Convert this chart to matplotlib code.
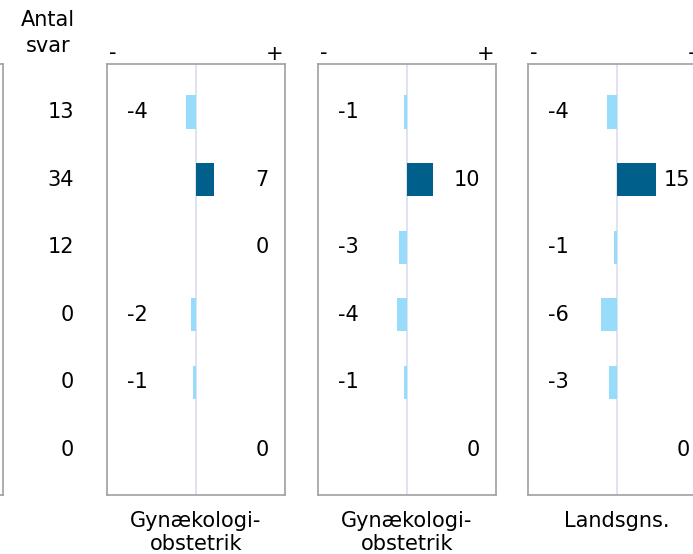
import numpy as np
import matplotlib.pyplot as plt

# data
antal_svar = [13, 34, 12, 0, 0, 0]
panel_names = ['Gynækologi-\nobstetrik', 'Gynækologi-\nobstetrik', 'Landsgns.']
panel_vals = [
	[-4, 7, 0, -2, -1, 0],
	[-1, 10, -3, -4, -1, 0],
	[-4, 15, -1, -6, -3, 0],
]

W, H = 693, 554
light = '#97DDFB'
dark = '#005F8B'
edge = '#A0A0A0'
zero_col = '#DCDCF2'
fs = 15

fig = plt.figure(figsize=(W/100, H/100), dpi=100)

def px_axes(left, top, width, height):
	return fig.add_axes([left/W, 1-(top+height)/H, width/W, height/H])

rows = np.arange(len(antal_svar))

# partial panel cut off on the left
ax0 = px_axes(-175, 64, 178, 431)
ax0.set_xticks([])
ax0.set_yticks([])
for s in ax0.spines.values():
	s.set_color(edge)
	s.set_linewidth(1.2)

# antal svar column
fig.text(48/W, 1-20/H, 'Antal', ha='center', va='center', fontsize=fs)
fig.text(48/W, 1-46/H, 'svar', ha='center', va='center', fontsize=fs)
row_px = 112 + rows*67.6
for n, y in zip(antal_svar, row_px):
	fig.text(74/W, 1-y/H, str(n), ha='right', va='center', fontsize=fs)

lefts = [107, 318, 528]
for left, name, vals in zip(lefts, panel_names, panel_vals):
	ax = px_axes(left, 64, 178, 431)
	vals = np.array(vals)
	cols = [dark if v > 0 else light for v in vals]
	ax.axvline(0, color=zero_col, lw=1.2, zorder=0)
	ax.barh(rows, vals, height=0.49, color=cols, zorder=2)
	ax.set_xlim(-34.2, 34.2)
	ax.set_ylim(5.67, -0.71)
	ax.set_xticks([])
	ax.set_yticks([])
	for s in ax.spines.values():
		s.set_color(edge)
		s.set_linewidth(1.2)
	for r, v in zip(rows, vals):
		if v < 0:
			ax.text(20/178, r, str(v), transform=ax.get_yaxis_transform(),
				ha='left', va='center', fontsize=fs)
		else:
			ax.text(1-16/178, r, str(v), transform=ax.get_yaxis_transform(),
				ha='right', va='center', fontsize=fs)
	ax.text(0.01, 1+11/431, '-', transform=ax.transAxes, ha='left', va='center', fontsize=fs)
	ax.text(0.99, 1+10/431, '+', transform=ax.transAxes, ha='right', va='center', fontsize=fs)
	ax.text(0.5, -16/431, name, transform=ax.transAxes, ha='center', va='top',
		fontsize=fs, linespacing=1.2)

fig.savefig('out.png', dpi=100)
